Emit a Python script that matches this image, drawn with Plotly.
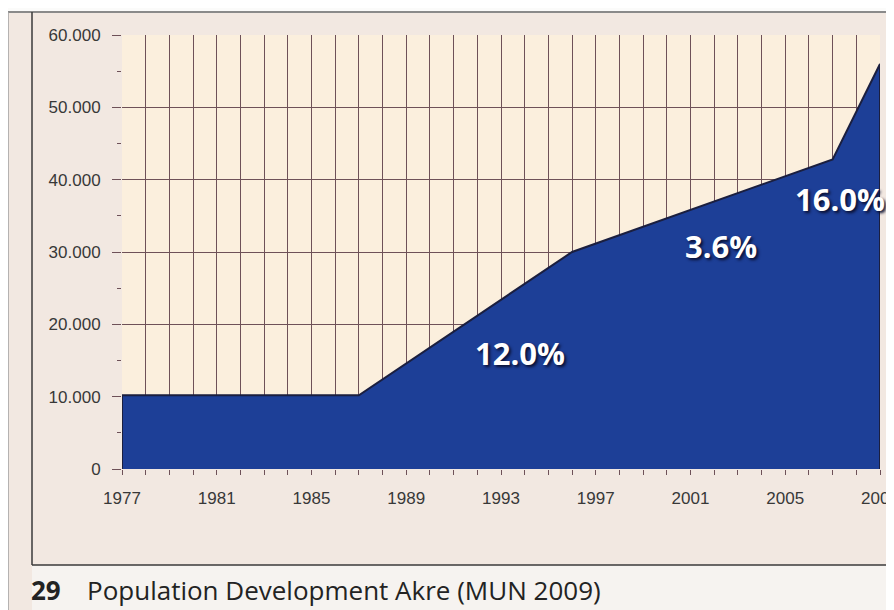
import plotly.graph_objects as go

# data
years = [1977, 1987, 1996, 2007, 2009]
population = [10200, 10200, 30000, 42800, 56000]

growth_labels = ["12.0%", "3.6%", "16.0%"]
growth_x = [1993.8, 2002.3, 2007.3]
growth_y = [16000, 30800, 37300]

caption_num = "29"
caption_text = "Population Development Akre (MUN 2009)"

# the page body adds an 8px margin, so the figure is made 8px smaller
_OFF = 8
_W, _H = 894 - _OFF, 610 - _OFF
_L, _R, _T, _B = 122, 880, 35, 469   # plot area in window pixels
_AREA = "#1d3f97"
_GRID = "#6e5158"
_TEXT = "#383838"


def _px(x):
    return (x - _L) / (_R - _L)


def _py(y):
    return (_B - y) / (_B - _T)


def _rect(x0, y0, x1, y1, color):
    return dict(type="rect", xref="paper", yref="paper", layer="below",
                x0=_px(x0), x1=_px(x1), y0=_py(y1), y1=_py(y0),
                fillcolor=color, line_width=0)


def _line(x0, y0, x1, y1, color, width):
    return dict(type="line", xref="paper", yref="paper",
                x0=_px(x0), x1=_px(x1), y0=_py(y0), y1=_py(y1),
                line=dict(color=color, width=width))


fig = go.Figure()

# closed polygon so the left edge gets the dark outline too
fig.add_trace(go.Scatter(
    x=[years[0]] + years + [years[-1]],
    y=[0] + population + [0],
    mode="lines",
    fill="toself",
    fillcolor=_AREA,
    line=dict(color="#1b1f3f", width=2),
    hoverinfo="skip",
    showlegend=False,
))

for txt, gx, gy in zip(growth_labels, growth_x, growth_y):
    fig.add_annotation(
        x=gx, y=gy, text=f"<b>{txt}</b>", showarrow=False,
        font=dict(family="Open Sans", size=31, color="white",
                  shadow="2px 2px 3px #0a0f30"),
    )

_cap_font = dict(family="Open Sans", size=26, color="#232323")
fig.add_annotation(
    xref="paper", yref="paper", x=_px(29), y=_py(590),
    xanchor="left", yanchor="middle", showarrow=False,
    text=f"<b>{caption_num}</b>", font=_cap_font,
)
fig.add_annotation(
    xref="paper", yref="paper", x=_px(85), y=_py(590),
    xanchor="left", yanchor="middle", showarrow=False,
    text=caption_text, font=_cap_font,
)

fig.update_layout(
    width=_W, height=_H,
    margin=dict(l=_L - _OFF, r=894 - _R, t=_T - _OFF, b=610 - _B),
    paper_bgcolor="#f2e8e1",
    plot_bgcolor="#fbefdd",
    separators=",.",
    font=dict(family="Liberation Sans", size=17, color=_TEXT),
    shapes=[
        _rect(_OFF, _OFF, 894, 12, "#fbfbfa"),
        _rect(32, 565, 894, 610, "#f6f3f0"),
        _line(_OFF, 12, 894, 12, "#8a8a8a", 2),
        _line(_OFF, 12, _OFF, 610, "#a0a0a0", 1.5),
        _line(32, 12, 32, 565, "#3a3a3a", 1.5),
        _line(32, 565, 894, 565, "#3a3a3a", 1.5),
    ],
)

fig.update_xaxes(
    range=[1977, 2009],
    tick0=1977, dtick=4,
    ticks="outside", ticklen=5, tickcolor=_GRID,
    showgrid=True, gridcolor=_GRID, gridwidth=1,
    minor=dict(dtick=1, tick0=1977, ticks="outside", ticklen=5,
               tickcolor=_GRID, showgrid=True, gridcolor=_GRID, gridwidth=1),
    showline=False, zeroline=False,
    ticklabelstandoff=9,
    ticklabeloverflow="allow",
    automargin=False,
)
fig.update_yaxes(
    range=[0, 60000],
    tick0=0, dtick=10000, tickformat=",d",
    ticks="outside", ticklen=9, tickcolor=_GRID,
    showgrid=True, gridcolor=_GRID, gridwidth=1,
    minor=dict(dtick=5000, ticks="outside", ticklen=4, tickcolor=_GRID,
               showgrid=False),
    showline=False, zeroline=False,
    ticklabelstandoff=8,
    automargin=False,
)

fig.write_html("out.html")
